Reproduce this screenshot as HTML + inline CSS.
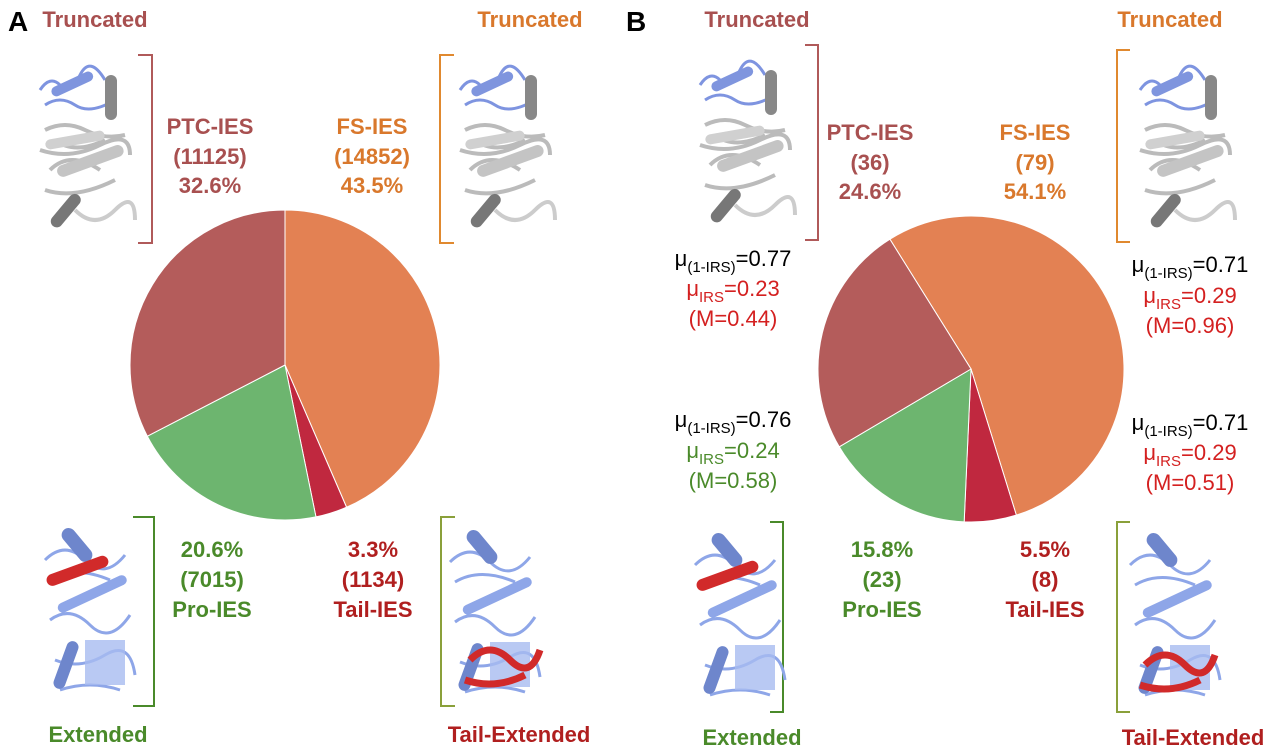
<!DOCTYPE html>
<html><head><meta charset="utf-8"><style>
body{margin:0;background:#fff}
svg{display:block;font-family:"Liberation Sans",Arial,sans-serif}
.b{font-weight:bold;font-size:22px}
.m{font-size:22px}
</style></head><body>
<svg id="fig" width="1280" height="748" viewBox="0 0 1280 748">
<defs>
<g id="protTrunc">
<path d="M5 30 q10 -15 20 -5 t20 -10 t25 5 M10 45 q15 -10 30 0 t40 -5" stroke="#7e94e0" stroke-width="3" fill="none"/>
<rect x="15" y="20" width="45" height="10" rx="5" fill="#7f95de" transform="rotate(-25 35 25)"/>
<rect x="70" y="15" width="12" height="45" rx="6" fill="#888"/>
<path d="M10 70 q20 -10 40 0 t40 5 M5 90 q30 10 60 -5 t30 10 M15 110 q20 -20 50 0 M10 130 q30 10 70 -10 M20 80 q20 15 50 0" stroke="#bbb" stroke-width="4" fill="none"/>
<rect x="20" y="95" width="70" height="12" rx="6" fill="#c4c4c4" transform="rotate(-20 55 100)"/>
<rect x="10" y="75" width="60" height="10" rx="5" fill="#d0d0d0" transform="rotate(-10 40 80)"/>
<rect x="25" y="130" width="12" height="40" rx="6" fill="#777" transform="rotate(40 30 150)"/>
<path d="M40 150 q20 20 40 0 t20 10" stroke="#ccc" stroke-width="4" fill="none"/>
</g>
<g id="protExt">
<path d="M5 40 q20 -20 40 0 t40 -5 M10 100 q20 -15 40 5 t40 -10 M15 140 q25 10 50 -5 t30 20 M20 170 q30 -10 60 0 M10 60 q25 -15 60 0" stroke="#8ea6e8" stroke-width="3" fill="none"/>
<rect x="30" y="5" width="14" height="40" rx="7" fill="#6e86cc" transform="rotate(-40 37 25)"/>
<rect x="15" y="70" width="75" height="10" rx="5" fill="#8ea6e8" transform="rotate(-25 50 75)"/>
<rect x="20" y="120" width="12" height="50" rx="6" fill="#6e86cc" transform="rotate(20 26 145)"/>
<rect x="45" y="120" width="40" height="45" fill="#a8bbf0" opacity="0.8"/>
</g>
</defs>
<g id="charts"></g>
<g fill="none" stroke-width="2">
<path d="M138 55 H152 V243 H138" stroke="#b05a5a"/>
<path d="M454 55 H440 V243 H454" stroke="#e0892f"/>
<path d="M133 517 H154 V706 H133" stroke="#4a8a2a"/>
<path d="M455 517 H441 V706 H455" stroke="#8aa03a"/>
<path d="M805 45 H818 V240 H805" stroke="#b05a5a"/>
<path d="M1130 50 H1117 V242 H1130" stroke="#e0892f"/>
<path d="M770 522 H783 V712 H770" stroke="#4a8a2a"/>
<path d="M1130 522 H1117 V712 H1130" stroke="#8aa03a"/>
</g>
<use href="#protTrunc" x="35" y="60"/><use href="#protTrunc" x="455" y="60"/>
<use href="#protExt" x="40" y="520"/><use href="#protExt" x="445" y="522"/>
<use href="#protTrunc" x="695" y="55"/><use href="#protTrunc" x="1135" y="60"/>
<use href="#protExt" x="690" y="525"/><use href="#protExt" x="1125" y="525"/>
<rect x="45" y="565" width="65" height="12" rx="6" fill="#d12a2a" transform="rotate(-20 77 571)"/>
<rect x="695" y="570" width="65" height="12" rx="6" fill="#d12a2a" transform="rotate(-20 727 576)"/>
<path d="M470 660 q20 -20 40 0 t30 -10 M465 680 q30 10 60 -5" stroke="#d12a2a" stroke-width="7" fill="none"/>
<path d="M1145 665 q20 -20 40 0 t30 -10 M1140 685 q30 10 60 -5" stroke="#d12a2a" stroke-width="7" fill="none"/>
<g class="b" text-anchor="middle">
<text x="8" y="31" font-size="28" text-anchor="start" fill="#000">A</text>
<text x="626" y="31" font-size="28" text-anchor="start" fill="#000">B</text>
<text x="95" y="27" fill="#a85050">Truncated</text>
<text x="530" y="27" fill="#d9782c">Truncated</text>
<text x="757" y="27" fill="#a85050">Truncated</text>
<text x="1170" y="27" fill="#d9782c">Truncated</text>
<g fill="#a85050"><text x="210" y="134">PTC-IES</text><text x="210" y="164">(11125)</text><text x="210" y="193">32.6%</text></g>
<g fill="#d9782c"><text x="372" y="134">FS-IES</text><text x="372" y="164">(14852)</text><text x="372" y="193">43.5%</text></g>
<g fill="#4a8a2a"><text x="212" y="557">20.6%</text><text x="212" y="587">(7015)</text><text x="212" y="617">Pro-IES</text></g>
<g fill="#b01f1f"><text x="373" y="557">3.3%</text><text x="373" y="587">(1134)</text><text x="373" y="617">Tail-IES</text></g>
<text x="98" y="742" fill="#4a8a2a">Extended</text>
<text x="519" y="742" fill="#b01f1f">Tail-Extended</text>
<g fill="#a85050"><text x="870" y="140">PTC-IES</text><text x="870" y="170">(36)</text><text x="870" y="199">24.6%</text></g>
<g fill="#d9782c"><text x="1035" y="140">FS-IES</text><text x="1035" y="170">(79)</text><text x="1035" y="199">54.1%</text></g>
<g fill="#4a8a2a"><text x="882" y="557">15.8%</text><text x="882" y="587">(23)</text><text x="882" y="617">Pro-IES</text></g>
<g fill="#b01f1f"><text x="1045" y="557">5.5%</text><text x="1045" y="587">(8)</text><text x="1045" y="617">Tail-IES</text></g>
<text x="752" y="745" fill="#4a8a2a">Extended</text>
<text x="1193" y="745" fill="#b01f1f">Tail-Extended</text>
</g>
<g class="m" text-anchor="middle">
<g><text x="733" y="266">μ<tspan font-size="15" dy="6">(1-IRS)</tspan><tspan dy="-6">=0.77</tspan></text><text x="733" y="296" fill="#d42020">μ<tspan font-size="15" dy="6">IRS</tspan><tspan dy="-6">=0.23</tspan></text><text x="733" y="326" fill="#d42020">(M=0.44)</text></g>
<g><text x="1190" y="272">μ<tspan font-size="15" dy="6">(1-IRS)</tspan><tspan dy="-6">=0.71</tspan></text><text x="1190" y="303" fill="#d42020">μ<tspan font-size="15" dy="6">IRS</tspan><tspan dy="-6">=0.29</tspan></text><text x="1190" y="333" fill="#d42020">(M=0.96)</text></g>
<g><text x="733" y="427">μ<tspan font-size="15" dy="6">(1-IRS)</tspan><tspan dy="-6">=0.76</tspan></text><text x="733" y="458" fill="#4a8a2a">μ<tspan font-size="15" dy="6">IRS</tspan><tspan dy="-6">=0.24</tspan></text><text x="733" y="488" fill="#4a8a2a">(M=0.58)</text></g>
<g><text x="1190" y="430">μ<tspan font-size="15" dy="6">(1-IRS)</tspan><tspan dy="-6">=0.71</tspan></text><text x="1190" y="460" fill="#d42020">μ<tspan font-size="15" dy="6">IRS</tspan><tspan dy="-6">=0.29</tspan></text><text x="1190" y="490" fill="#d42020">(M=0.51)</text></g>
</g>
</svg>
<script>
const categories = ["FS-IES", "Tail-IES", "Pro-IES", "PTC-IES"];
const colors = ["#e38153", "#c0283f", "#6db56f", "#b45c5b"];
const valuesA = [43.5, 3.3, 20.6, 32.6];
const valuesB = [54.1, 5.5, 15.8, 24.6];
const startA = 0;
const startB = -32;
function drawPie(vals, cx, cy, r, start, tag) {
  const g = document.getElementById('charts');
  const total = vals.reduce((a, b) => a + b, 0);
  let ang = start;
  vals.forEach((v, i) => {
    const a0 = ang * Math.PI / 180, a1 = (ang + v / total * 360) * Math.PI / 180;
    const x0 = cx + r * Math.sin(a0), y0 = cy - r * Math.cos(a0);
    const x1 = cx + r * Math.sin(a1), y1 = cy - r * Math.cos(a1);
    const large = (a1 - a0) > Math.PI ? 1 : 0;
    const p = document.createElementNS('http://www.w3.org/2000/svg', 'path');
    p.setAttribute('d', `M${cx} ${cy} L${x0} ${y0} A${r} ${r} 0 ${large} 1 ${x1} ${y1} Z`);
    p.setAttribute('fill', colors[i]);
    p.setAttribute('stroke', '#fff');
    p.setAttribute('stroke-width', '1');
    
    
    g.appendChild(p);
    ang += v / total * 360;
  });
}
drawPie(valuesA, 285, 365, 155, startA, 'a');
drawPie(valuesB, 971, 369, 153, startB, 'b');
</script>
</body></html>
